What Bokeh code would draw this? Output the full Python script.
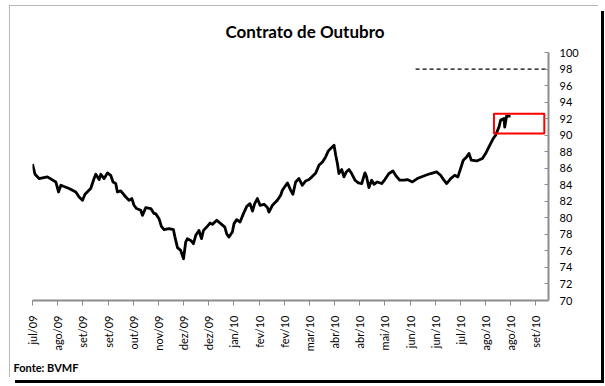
import math
from bokeh.plotting import figure
from bokeh.models import Range1d, FixedTicker, Title
from bokeh.embed import file_html
from bokeh.resources import INLINE

# trading-day index (from start of jul/09) and contract price
day = [0, 1.5, 3.9, 8.9, 13.9, 15.5, 16.9, 21.8, 25.8, 27.8, 29.8, 31.3, 34.7, 36.7,
       37.7, 39.7, 40.7, 42.7, 44.7, 46.6, 48.0, 49.6, 50.6, 52.6, 55.6, 57.5, 59.2,
       60.5, 62.0, 64.5, 65.5, 67.5, 70.5, 72.4, 73.4, 75.4, 76.8, 78.4, 81.4, 84.0,
       84.8, 86.4, 88.3, 90.0, 91.3, 92.3, 94.3, 95.9, 97.3, 99.2, 100.7, 101.9, 103.8,
       105.8, 107.2, 109.8, 112.2, 114.6, 115.7, 117.1, 119.1, 120.1, 121.7, 123.7,
       125.7, 127.7, 129.6, 131.1, 132.4, 134.0, 135.6, 138.0, 140.0, 140.9, 143.0,
       145.9, 147.9, 148.9, 151.9, 153.9, 155.2, 156.8, 158.8, 160.8, 162.8, 164.8,
       166.4, 168.8, 170.7, 172.8, 174.7, 176.3, 178.3, 179.7, 180.7, 181.7, 182.6,
       184.3, 185.6, 187.0, 188.6, 190.2, 192.2, 194.2, 196.2, 198.1, 199.0, 200.5,
       202.1, 203.5, 205.5, 208.1, 210.0, 212.4, 214.8, 216.4, 218.8, 221.4, 223.4,
       226.4, 229.3, 234.3, 237.3, 240.8, 243.2, 245.2, 246.8, 249.2, 251.6, 253.5,
       255.1, 256.7, 258.7, 260.1, 261.5, 264.7, 268.1, 270.0, 272.0, 274.6, 276.0,
       278.0, 279.0, 281.0, 281.4, 282.5, 284.9]
price = [86.5, 85.27, 84.75, 84.95, 84.34, 83.13, 83.94, 83.54, 83.13, 82.52, 82.12,
         82.85, 83.54, 84.75, 85.27, 84.63, 85.27, 84.75, 85.43, 85.15, 84.34, 84.15,
         83.13, 83.25, 82.52, 82.12, 82.33, 81.52, 81.12, 80.91, 80.30, 81.24, 81.12,
         80.51, 80.51, 79.90, 78.97, 78.57, 78.69, 78.57, 77.76, 76.39, 76.06, 75.05,
         77.07, 77.48, 77.27, 76.87, 77.88, 78.48, 77.48, 78.48, 78.88, 79.37, 79.21,
         79.70, 79.30, 78.88, 78.08, 77.67, 78.28, 79.30, 79.78, 79.49, 80.51, 81.39,
         81.72, 80.82, 81.72, 82.33, 81.52, 81.64, 81.24, 80.70, 81.52, 82.12, 82.73,
         83.33, 84.22, 83.33, 82.85, 84.34, 84.75, 83.94, 84.46, 84.63, 84.95, 85.43,
         86.36, 86.76, 87.37, 88.10, 88.51, 88.79, 87.58, 86.57, 85.36, 85.84, 84.95,
         85.55, 85.84, 85.36, 84.55, 84.22, 84.15, 85.43, 85.03, 83.66, 84.55, 84.06,
         84.34, 84.15, 84.63, 85.36, 85.67, 85.15, 84.55, 84.55, 84.63, 84.34, 84.75,
         85.15, 85.36, 85.55, 85.15, 84.55, 84.15, 84.75, 85.15, 84.95, 85.96, 86.97,
         87.37, 87.78, 86.97, 86.88, 87.18, 87.78, 88.58, 89.60, 90.0, 91.0, 91.82,
         92.02, 90.97, 92.30, 92.30]

tick_days = list(range(0, 301, 15))
tick_labels = ["jul/09", "ago/09", "set/09", "set/09", "out/09", "nov/09", "dez/09",
               "dez/09", "jan/10", "fev/10", "fev/10", "mar/10", "abr/10", "abr/10",
               "mai/10", "jun/10", "jun/10", "jul/10", "ago/10", "ago/10", "set/10"]

ref_day = [228.3, 307.5]
ref_level = [98, 98]

box_day = [275, 305]
box_level = [90.2, 92.6]

FONT = "Lato"

p = figure(width=589, height=372, x_range=Range1d(0, 307.5), y_range=Range1d(70, 100),
           output_backend="svg", toolbar_location=None, y_axis_location="right",
           min_border_left=23, min_border_right=50, min_border_top=47,
           min_border_bottom=77)
p.margin = (5, 0, 0, 9)
p.outline_line_color = None
p.grid.visible = False
p.background_fill_color = "white"
p.border_fill_color = "white"

p.title.text = "Contrato de Outubro"
p.title.text_font = FONT
p.title.text_font_size = "17px"
p.title.text_font_style = "bold"
p.title.align = "left"
p.title.offset = 193
p.title.standoff = 22
p.title.text_color = "black"

p.add_layout(Title(text="Fonte: BVMF", align="left", offset=-19, text_font=FONT,
                   text_font_size="11px", text_font_style="bold", text_color="black",
                   standoff=8),
             "below")

p.line(day, price, line_color="black", line_width=2.8, line_join="round")
p.line(ref_day, ref_level, line_color="black", line_width=1.3, line_dash="4 3")
p.quad(left=[box_day[0]], right=[box_day[1]], bottom=[box_level[0]], top=[box_level[1]],
       fill_color=None, line_color="#ff0000", line_width=2)

xa = p.xaxis[0]
xa.ticker = FixedTicker(ticks=tick_days)
xa.major_label_overrides = {d: l for d, l in zip(tick_days, tick_labels)}
xa.major_label_orientation = math.pi / 2
xa.minor_tick_line_color = None
xa.major_tick_in = 0
xa.major_tick_out = 5
xa.major_label_standoff = 10
xa.axis_line_color = "#8c8c8c"
xa.axis_line_width = 2
xa.major_tick_line_color = "#8c8c8c"
xa.major_tick_line_width = 1
xa.major_label_text_font = FONT
xa.major_label_text_font_size = "11px"
xa.major_label_text_color = "black"

ya = p.yaxis[0]
ya.ticker = FixedTicker(ticks=list(range(70, 101, 2)))
ya.minor_tick_line_color = None
ya.major_tick_in = 4
ya.major_tick_out = 0
ya.major_label_standoff = 11
ya.axis_line_color = "#8c8c8c"
ya.axis_line_width = 2
ya.major_tick_line_color = "#8c8c8c"
ya.major_label_text_font = FONT
ya.major_label_text_font_size = "11px"
ya.major_label_text_color = "black"

p.styles = {"outline": "1px solid #a0a0a0", "outline-offset": "-1px",
            "box-shadow": "3px 3px 0 0 #ffffff, 6px 6px 0 0 #000000"}

open("out.html", "w").write(file_html(p, INLINE))
